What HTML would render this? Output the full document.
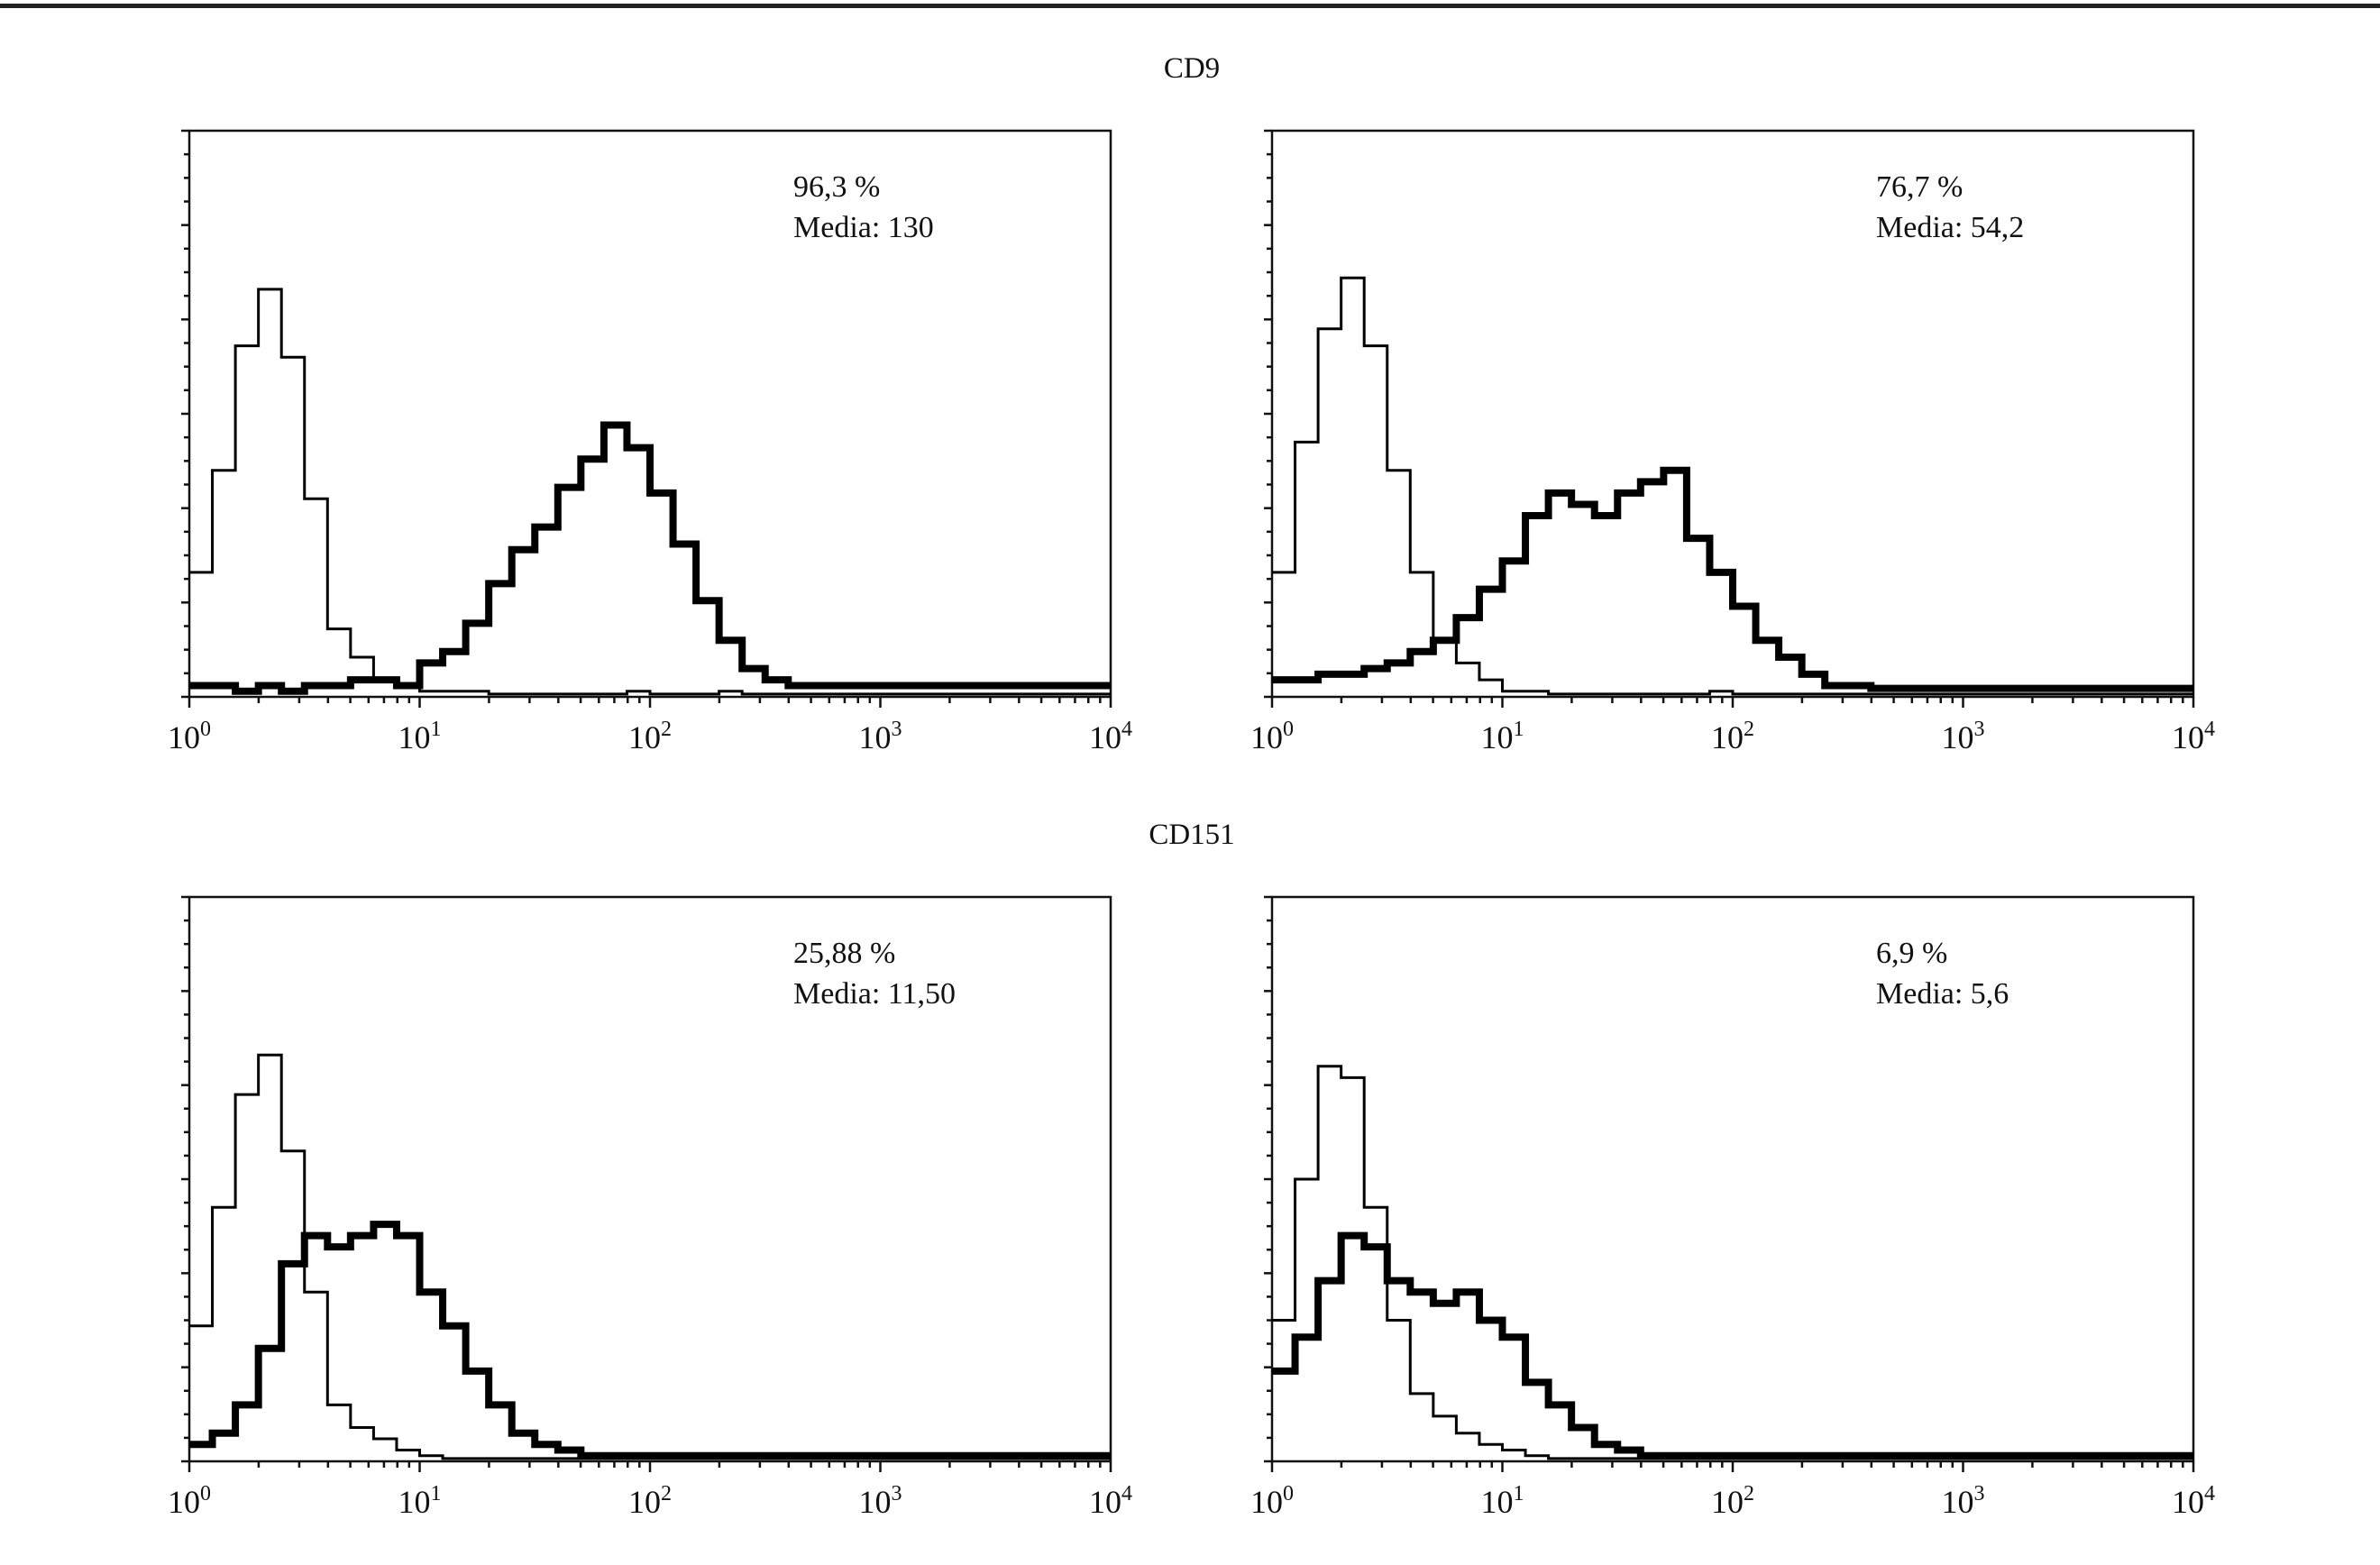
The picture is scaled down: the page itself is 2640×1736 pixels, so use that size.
<!DOCTYPE html>
<html><head><meta charset="utf-8"><style>
html,body{margin:0;padding:0;background:#fff;}
svg{display:block;}
text{font-family:"Liberation Serif",serif;fill:#111;}
</style></head><body>
<svg id="fig" width="2640" height="1736" viewBox="0 0 2640 1736">
<rect x="0" y="4" width="2640" height="5" fill="#222"/>
<text x="1322" y="86" font-size="33" text-anchor="middle">CD9</text>
<text x="1322" y="936" font-size="33" text-anchor="middle">CD151</text>
</svg>
<script>
// bins of 0.1 decade from 10^0 to 10^4 (40 bins); counts as % of frame height
const tickLabels = ["0","1","2","3","4"];
const p1Iso = [22,40,62,72,60,35,12,7,3,2,1,1,1,0.5,0.5,0.5,0.5,0.5,0.5,1,0.5,0.5,0.5,1,0.5,0.5,0.5,0.5,0.5,0.5,0.5,0.5,0.5,0.5,0.5,0.5,0.5,0.5,0.5,0.5];
const p1Pos = [2,2,1,2,1,2,2,3,3,2,6,8,13,20,26,30,37,42,48,44,36,27,17,10,5,3,2,2,2,2,2,2,2,2,2,2,2,2,2,2];
const p2Iso = [22,45,65,74,62,40,22,10,6,3,1,1,0.5,0.5,0.5,0.5,0.5,0.5,0.5,1,0.5,0.5,0.5,0.5,0.5,0.5,0.5,0.5,0.5,0.5,0.5,0.5,0.5,0.5,0.5,0.5,0.5,0.5,0.5,0.5];
const p2Pos = [3,3,4,4,5,6,8,10,14,19,24,32,36,34,32,36,38,40,28,22,16,10,7,4,2,2,1.5,1.5,1.5,1.5,1.5,1.5,1.5,1.5,1.5,1.5,1.5,1.5,1.5,1.5];
const p3Iso = [24,45,65,72,55,30,10,6,4,2,1,0.5,0.5,0.5,0.5,0.5,0.5,0.5,0.5,0.5,0.5,0.5,0.5,0.5,0.5,0.5,0.5,0.5,0.5,0.5,0.5,0.5,0.5,0.5,0.5,0.5,0.5,0.5,0.5,0.5];
const p3Pos = [3,5,10,20,35,40,38,40,42,40,30,24,16,10,5,3,2,1,1,1,1,1,1,1,1,1,1,1,1,1,1,1,1,1,1,1,1,1,1,1];
const p4Iso = [25,50,70,68,45,25,12,8,5,3,2,1,0.5,0.5,0.5,0.5,0.5,0.5,0.5,0.5,0.5,0.5,0.5,0.5,0.5,0.5,0.5,0.5,0.5,0.5,0.5,0.5,0.5,0.5,0.5,0.5,0.5,0.5,0.5,0.5];
const p4Pos = [16,22,32,40,38,32,30,28,30,25,22,14,10,6,3,2,1,1,1,1,1,1,1,1,1,1,1,1,1,1,1,1,1,1,1,1,1,1,1,1];
const pctLabels = ["96,3 %","76,7 %","25,88 %","6,9 %"];
const mediaLabels = ["Media: 130","Media: 54,2","Media: 11,50","Media: 5,6"];

const NS="http://www.w3.org/2000/svg";
const svg=document.getElementById('fig');
const panels=[
 {x0:210,x1:1232,y0:145,y1:773,iso:p1Iso,pos:p1Pos,n:'cd9-left'},
 {x0:1411,x1:2433,y0:145,y1:773,iso:p2Iso,pos:p2Pos,n:'cd9-right'},
 {x0:210,x1:1232,y0:995,y1:1621,iso:p3Iso,pos:p3Pos,n:'cd151-left'},
 {x0:1411,x1:2433,y0:995,y1:1621,iso:p4Iso,pos:p4Pos,n:'cd151-right'}
];
function mk(tag,attrs){const e=document.createElementNS(NS,tag);for(const k in attrs)e.setAttribute(k,attrs[k]);return e;}
panels.forEach((p,pi)=>{
 const g=mk('g',{});
 
 
 svg.appendChild(g);
 const xs=v=>p.x0+(v/4)*(p.x1-p.x0);
 const ys=v=>p.y1-(v/100)*(p.y1-p.y0);
 const fr=mk('rect',{x:p.x0,y:p.y0,width:p.x1-p.x0,height:p.y1-p.y0,fill:'none',stroke:'#111','stroke-width':2.5});
 
 
 g.appendChild(fr);
 for(let i=0;i<=24;i++){
  const y=p.y1-i*(p.y1-p.y0)/24;
  const len=(i%4===0)?9:6;
  const t=mk('line',{x1:p.x0-len,x2:p.x0,y1:y,y2:y,stroke:'#111','stroke-width':2.5});
  
  
  g.appendChild(t);
 }
 for(let d=0;d<4;d++){
  for(let m=1;m<=9;m++){
   const v=d+Math.log10(m);
   const len=(m===1)?12:7;
   const t=mk('line',{x1:xs(v),x2:xs(v),y1:p.y1,y2:p.y1+len,stroke:'#111','stroke-width':2.5});
   
   
   g.appendChild(t);
  }
 }
 const t4=mk('line',{x1:xs(4),x2:xs(4),y1:p.y1,y2:p.y1+12,stroke:'#111','stroke-width':2.5});
 
 
 g.appendChild(t4);
 tickLabels.forEach((lab,i)=>{
  const tx=mk('text',{x:xs(+lab),y:p.y1+57,'font-size':36,'text-anchor':'middle'});
  
  
  tx.textContent='10';
  const sp=mk('tspan',{dy:-14,'font-size':24});
  sp.textContent=lab;
  tx.appendChild(sp);
  g.appendChild(tx);
 });
 function step(arr,name,w){
  const n=arr.length;let d='';
  arr.forEach((v,i)=>{
   const xa=xs(i*4/n), xb=xs((i+1)*4/n), y=ys(v);
   d+=(i===0?'M'+xa+','+ys(arr[0])+' ':'L'+xa+','+y+' ')+'L'+xb+','+y+' ';
  });
  const path=mk('path',{d:d,fill:'none',stroke:'#000','stroke-width':w,'stroke-linejoin':'miter'});
  
  
  g.appendChild(path);
 }
 step(p.iso,'isotype-histogram',3);
 step(p.pos,'sample-histogram',8);
 const a1=mk('text',{x:p.x0+670,y:p.y0+73,'font-size':34});
 
 
 a1.textContent=pctLabels[pi];
 g.appendChild(a1);
 const a2=mk('text',{x:p.x0+670,y:p.y0+118,'font-size':34});
 
 
 a2.textContent=mediaLabels[pi];
 g.appendChild(a2);
});
</script>
</body></html>
